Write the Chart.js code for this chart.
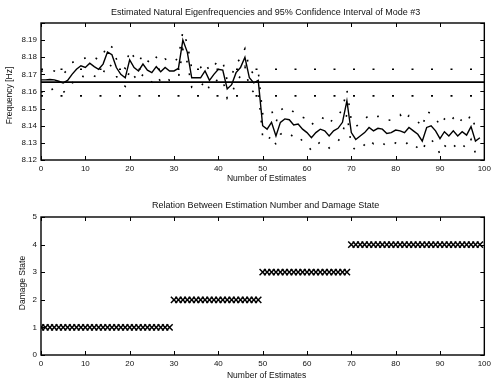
<!DOCTYPE html>
<html><head><meta charset="utf-8">
<script src="https://cdn.jsdelivr.net/npm/chart.js@4/dist/chart.umd.min.js"></script>
<style>
html,body{margin:0;padding:0;background:#fff;}
#wrap{position:relative;width:495px;height:382px;background:#fff;}
canvas{position:absolute;left:0;}
#c1{top:0;width:495px;height:190px;}
#c2{top:190px;width:495px;height:192px;}
</style></head><body>
<div id="wrap"><canvas id="c1" width="495" height="190"></canvas><canvas id="c2" width="495" height="192"></canvas></div>
<script>
// ---- data ----
const estimateNumbers = Array.from({length: 100}, (_, i) => i);
const xTicks = [0,10,20,30,40,50,60,70,80,90,100];
const freqTicks = [8.12,8.13,8.14,8.15,8.16,8.17,8.18,8.19];
const stateTicks = [0,1,2,3,4,5];

const undamagedMean = 8.1655;
const undamagedUpper = 8.1730;
const undamagedLower = 8.1574;

const freqEstimate = [
8.1668,8.1668,8.1670,8.1668,8.1660,8.1650,8.1665,8.1700,8.1730,8.1750,
8.1740,8.1765,8.1745,8.1730,8.1760,8.1830,8.1815,8.1740,8.1700,8.1680,
8.1785,8.1740,8.1720,8.1760,8.1725,8.1710,8.1745,8.1715,8.1740,8.1720,
8.1720,8.1735,8.1900,8.1830,8.1680,8.1680,8.1680,8.1720,8.1665,8.1700,
8.1730,8.1725,8.1615,8.1640,8.1710,8.1740,8.1800,8.1680,8.1650,8.1665,
8.1400,8.1380,8.1420,8.1340,8.1420,8.1440,8.1435,8.1405,8.1410,8.1380,
8.1360,8.1330,8.1360,8.1380,8.1370,8.1340,8.1370,8.1385,8.1420,8.1545,
8.1360,8.1320,8.1340,8.1360,8.1390,8.1370,8.1385,8.1380,8.1355,8.1360,
8.1375,8.1370,8.1360,8.1390,8.1370,8.1350,8.1310,8.1390,8.1400,8.1370,
8.1325,8.1365,8.1340,8.1370,8.1340,8.1365,8.1345,8.1395,8.1310,8.1330];

const freqUpper = [
8.1720,8.1715,8.1725,8.1720,8.1705,8.1700,8.1730,8.1770,8.1775,8.1790,
8.1795,8.1810,8.1800,8.1785,8.1815,8.1875,8.1860,8.1790,8.1755,8.1735,
8.1840,8.1800,8.1770,8.1815,8.1780,8.1760,8.1800,8.1770,8.1790,8.1775,
8.1770,8.1800,8.1950,8.1880,8.1735,8.1730,8.1740,8.1770,8.1720,8.1750,
8.1780,8.1775,8.1665,8.1695,8.1760,8.1795,8.1850,8.1735,8.1700,8.1720,
8.1470,8.1465,8.1490,8.1420,8.1490,8.1510,8.1500,8.1480,8.1475,8.1450,
8.1440,8.1405,8.1430,8.1450,8.1440,8.1410,8.1445,8.1455,8.1500,8.1610,
8.1430,8.1395,8.1415,8.1440,8.1460,8.1445,8.1455,8.1450,8.1430,8.1435,
8.1450,8.1465,8.1430,8.1460,8.1440,8.1425,8.1390,8.1485,8.1470,8.1445,
8.1400,8.1440,8.1415,8.1445,8.1410,8.1440,8.1420,8.1465,8.1390,8.1400];

const freqLower = [
8.1600,8.1585,8.1610,8.1615,8.1600,8.1595,8.1610,8.1650,8.1665,8.1690,
8.1685,8.1700,8.1690,8.1680,8.1705,8.1765,8.1745,8.1690,8.1650,8.1630,
8.1725,8.1690,8.1660,8.1700,8.1670,8.1655,8.1690,8.1660,8.1685,8.1665,
8.1670,8.1680,8.1845,8.1770,8.1625,8.1630,8.1625,8.1665,8.1615,8.1645,
8.1675,8.1670,8.1560,8.1585,8.1655,8.1690,8.1745,8.1625,8.1595,8.1610,
8.1335,8.1310,8.1345,8.1290,8.1350,8.1365,8.1360,8.1330,8.1340,8.1310,
8.1290,8.1255,8.1285,8.1305,8.1300,8.1270,8.1295,8.1310,8.1350,8.1470,
8.1285,8.1255,8.1265,8.1290,8.1320,8.1295,8.1310,8.1300,8.1280,8.1285,
8.1300,8.1295,8.1285,8.1310,8.1290,8.1270,8.1250,8.1315,8.1320,8.1290,
8.1235,8.1285,8.1265,8.1290,8.1265,8.1290,8.1270,8.1320,8.1240,8.1255];

const damageState = [
1,1,1,1,1,1,1,1,1,1, 1,1,1,1,1,1,1,1,1,1, 1,1,1,1,1,1,1,1,1,1,
2,2,2,2,2,2,2,2,2,2, 2,2,2,2,2,2,2,2,2,2,
3,3,3,3,3,3,3,3,3,3, 3,3,3,3,3,3,3,3,3,3,
4,4,4,4,4,4,4,4,4,4, 4,4,4,4,4,4,4,4,4,4, 4,4,4,4,4,4,4,4,4,4];

const titleTop = 'Estimated Natural Eigenfrequencies and 95% Confidence Interval of Mode #3';
const titleBottom = 'Relation Between Estimation Number and Damage State';
const xLabel = 'Number of Estimates';
const yLabelTop = 'Frequency [Hz]';
const yLabelBottom = 'Damage State';

// ---- drawing ----
const FONT = "'Liberation Sans', Arial, Helvetica, sans-serif";
const INK = '#111';

const framePlugin = {
  id: 'frame',
  afterDraw(chart, args, o) {
    const {ctx, chartArea: a, scales} = chart;
    ctx.save();
    ctx.strokeStyle = '#000';
    ctx.lineWidth = 1.4;
    ctx.strokeRect(a.left, a.top, a.right - a.left, a.bottom - a.top);
    ctx.lineWidth = 1;
    const L = 4;
    ctx.beginPath();
    scales.x.ticks.forEach(t => {
      const px = Math.round(scales.x.getPixelForValue(t.value)) + 0.5;
      ctx.moveTo(px, a.bottom); ctx.lineTo(px, a.bottom - L);
      ctx.moveTo(px, a.top); ctx.lineTo(px, a.top + L);
    });
    scales.y.ticks.forEach(t => {
      const py = Math.round(scales.y.getPixelForValue(t.value)) + 0.5;
      ctx.moveTo(a.left, py); ctx.lineTo(a.left + L, py);
      ctx.moveTo(a.right, py); ctx.lineTo(a.right - L, py);
    });
    ctx.stroke();
    ctx.fillStyle = INK;
    ctx.font = o.titleFont + 'px ' + FONT;
    ctx.textAlign = 'center';
    ctx.textBaseline = 'middle';
    ctx.fillText(o.title, (a.left + a.right) / 2 + 3, o.titleY);
    ctx.font = '8.5px ' + FONT;
    ctx.fillText(o.xTitle, (a.left + a.right) / 2 + 4, o.xTitleY);
    ctx.save();
    ctx.translate(o.yTitleX, (a.top + a.bottom) / 2 + o.yTitleDy);
    ctx.rotate(-Math.PI / 2);
    ctx.fillText(o.yTitle, 0, 0);
    ctx.restore();
    ctx.restore();
  }
};

function pts(ys) { return ys.map((y, i) => ({x: estimateNumbers[i], y})); }
function hline(v) { return [{x: xTicks[0], y: v}, {x: xTicks[xTicks.length - 1], y: v}]; }

const commonX = {
  type: 'linear', min: 0, max: 100,
  afterBuildTicks: s => { s.ticks = xTicks.map(v => ({value: v})); },
  grid: {display: false, drawTicks: false},
  border: {display: false},
  ticks: {color: INK, font: {family: FONT, size: 8}, padding: 4, maxRotation: 0, autoSkip: false}
};

Chart.defaults.animation = false;

new Chart(document.getElementById('c1'), {
  type: 'line',
  data: {datasets: [
    {data: hline(undamagedMean), borderColor: '#000', borderWidth: 1.6, pointRadius: 0},
    {data: hline(undamagedUpper), borderColor: '#000', borderWidth: 1.7, borderDash: [2, 17.5], pointRadius: 0},
    {data: hline(undamagedLower), borderColor: '#000', borderWidth: 1.7, borderDash: [2, 17.5], pointRadius: 0},
    {data: pts(freqEstimate), borderColor: '#000', borderWidth: 1.4, pointRadius: 0, tension: 0},
    {data: pts(freqUpper), borderColor: '#000', borderWidth: 1.6, borderDash: [1.8, 11], pointRadius: 0},
    {data: pts(freqLower), borderColor: '#000', borderWidth: 1.6, borderDash: [1.8, 11], pointRadius: 0}
  ]},
  options: {
    responsive: false, devicePixelRatio: 1, animation: false,
    layout: {padding: {left: 0, right: 9, top: 23, bottom: 0}},
    plugins: {
      legend: {display: false}, tooltip: {enabled: false},
      frame: {title: titleTop, titleFont: 9, titleY: 13, xTitle: xLabel, xTitleY: 179,
              yTitle: yLabelTop, yTitleX: 10, yTitleDy: 4}
    },
    scales: {
      x: Object.assign({}, commonX, {afterFit: s => { s.height = 30; }}),
      y: {
        type: 'linear', min: 8.12, max: 8.2,
        afterBuildTicks: s => { s.ticks = freqTicks.concat([8.2]).map(v => ({value: v})); },
        afterFit: s => { s.width = 41; },
        grid: {display: false, drawTicks: false},
        border: {display: false},
        ticks: {color: INK, font: {family: FONT, size: 8}, padding: 4,
                callback: v => (v > 8.1995 ? '' : v.toFixed(2))}
      }
    }
  },
  plugins: [framePlugin]
});

new Chart(document.getElementById('c2'), {
  type: 'scatter',
  data: {datasets: [
    {data: pts(damageState), pointStyle: 'crossRot', pointRadius: 4.4, borderColor: '#000',
     backgroundColor: '#000', borderWidth: 1.5, showLine: false}
  ]},
  options: {
    responsive: false, devicePixelRatio: 1, animation: false,
    layout: {padding: {left: 0, right: 9, top: 27, bottom: 0}},
    plugins: {
      legend: {display: false}, tooltip: {enabled: false},
      frame: {title: titleBottom, titleFont: 9, titleY: 16, xTitle: xLabel, xTitleY: 186,
              yTitle: yLabelBottom, yTitleX: 23, yTitleDy: -3}
    },
    scales: {
      x: Object.assign({}, commonX, {afterFit: s => { s.height = 27; }}),
      y: {
        type: 'linear', min: 0, max: 5,
        afterBuildTicks: s => { s.ticks = stateTicks.map(v => ({value: v})); },
        afterFit: s => { s.width = 41; },
        grid: {display: false, drawTicks: false},
        border: {display: false},
        ticks: {color: INK, font: {family: FONT, size: 8}, padding: 4}
      }
    }
  },
  plugins: [framePlugin]
});
</script>
</body></html>
